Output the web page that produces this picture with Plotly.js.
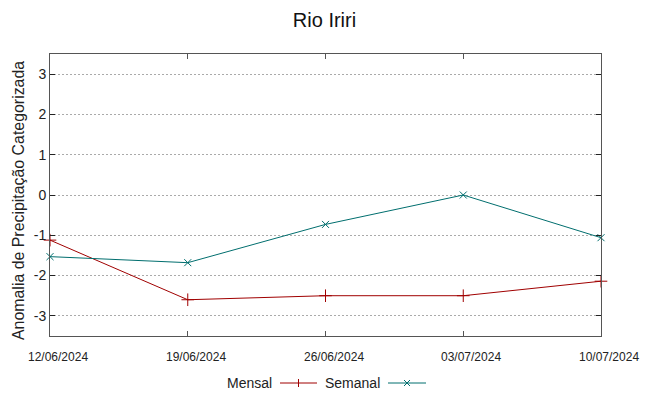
<!DOCTYPE html>
<html>
<head>
<meta charset="utf-8">
<script src="https://cdn.plot.ly/plotly-3.0.1.min.js"></script>
<style>html,body{margin:0;padding:0;background:#fff}#chart{width:649px;height:396px}</style>
</head>
<body>
<div id="chart"></div>
<script>
const dates = ["12/06/2024", "19/06/2024", "26/06/2024", "03/07/2024", "10/07/2024"];
const mensal = [-1.12, -2.6, -2.5, -2.5, -2.14];
const semanal = [-1.53, -1.68, -0.73, 0.0, -1.06];
const yTicks = [-3, -2, -1, 0, 1, 2, 3];
const seriesNames = ["Mensal", "Semanal"];
const yTitle = "Anomalia de Precipitação Categorizada";
const colors = ["#a00000", "#006e6e"];

const traces = [
  {x: dates, y: mensal, name: seriesNames[0], type: "scatter", mode: "lines+markers",
   line: {color: colors[0], width: 1},
   marker: {symbol: "cross-thin-open", size: 9, line: {color: colors[0], width: 1}, color: colors[0]},
   cliponaxis: false, showlegend: false},
  {x: dates, y: semanal, name: seriesNames[1], type: "scatter", mode: "lines+markers",
   line: {color: colors[1], width: 1},
   marker: {symbol: "x-thin-open", size: 7, line: {color: colors[1], width: 1}, color: colors[1]},
   cliponaxis: false, showlegend: false}
];

const W = 649, H = 396;
const L = 50, R = 601, T = 54, B = 336;
function px(x) { return (x - L) / (R - L); }
function py(y) { return (B - y) / (B - T); }
const legendY = 383;
const font = "Liberation Sans, Arial, sans-serif";
const shapes = [
  {type: "line", xref: "paper", yref: "paper", x0: px(280), x1: px(317), y0: py(legendY), y1: py(legendY), line: {color: colors[0], width: 1}},
  {type: "line", xref: "paper", yref: "paper", x0: px(298.5), x1: px(298.5), y0: py(legendY - 4), y1: py(legendY + 4), line: {color: colors[0], width: 1}},
  {type: "line", xref: "paper", yref: "paper", x0: px(388), x1: px(426), y0: py(legendY), y1: py(legendY), line: {color: colors[1], width: 1}},
  {type: "line", xref: "paper", yref: "paper", x0: px(404), x1: px(410), y0: py(legendY - 3), y1: py(legendY + 3), line: {color: colors[1], width: 1}},
  {type: "line", xref: "paper", yref: "paper", x0: px(404), x1: px(410), y0: py(legendY + 3), y1: py(legendY - 3), line: {color: colors[1], width: 1}}
];
const annotations = [
  {xref: "paper", yref: "paper", x: px(274), y: py(legendY), xanchor: "right", yanchor: "middle", showarrow: false,
   text: seriesNames[0], font: {family: font, size: 14, color: "#222"}},
  {xref: "paper", yref: "paper", x: px(382), y: py(legendY), xanchor: "right", yanchor: "middle", showarrow: false,
   text: seriesNames[1], font: {family: font, size: 14, color: "#222"}},
  {xref: "paper", yref: "paper", x: px(19), y: py(201), xanchor: "center", yanchor: "middle", showarrow: false,
   textangle: -90, text: yTitle, font: {family: font, size: 15.9, color: "#222"}}
];
dates.forEach(d => annotations.push({
  xref: "x", yref: "paper", x: d, y: py(357), xanchor: "center", yanchor: "middle", xshift: 8,
  showarrow: false, text: d, font: {family: font, size: 12, color: "#222"}
}));

const layout = {
  width: W, height: H,
  margin: {l: L, r: W - R, t: T, b: H - B},
  paper_bgcolor: "#fff", plot_bgcolor: "#fff",
  showlegend: false,
  title: {text: "Rio Iriri", x: 0.5, xanchor: "center", y: 1 - 20 / H, yanchor: "middle",
          font: {family: font, size: 20, color: "#111"}},
  xaxis: {type: "category", range: [0, 4], tickvals: dates, showticklabels: false,
          showgrid: false, zeroline: false, showline: true, linecolor: "#555", linewidth: 1, mirror: "allticks",
          ticks: "inside", ticklen: 5, tickcolor: "#555", tickwidth: 1},
  yaxis: {range: [-3.5, 3.5], tickvals: yTicks, ticktext: yTicks.map(String),
          showgrid: true, gridcolor: "#aaaaaa", griddash: "2px,2px", gridwidth: 1,
          zeroline: false, showline: true, linecolor: "#555", linewidth: 1, mirror: "allticks",
          ticks: "inside", ticklen: 5, tickcolor: "#222", tickwidth: 1,
          tickfont: {family: font, size: 14, color: "#222"}},
  shapes: shapes,
  annotations: annotations
};

Plotly.newPlot("chart", traces, layout, {displayModeBar: false, staticPlot: true});
</script>
</body>
</html>
